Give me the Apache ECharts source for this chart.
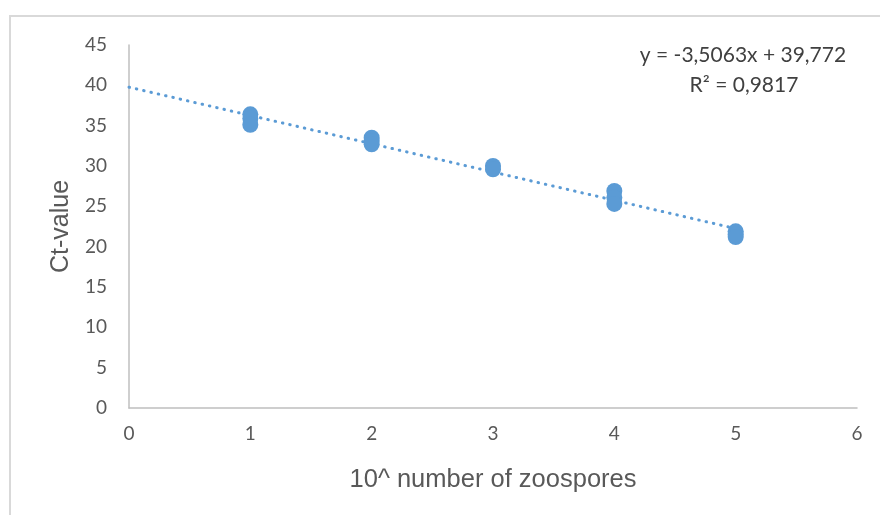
<!DOCTYPE html>
<html><head><meta charset="utf-8">
<script src="https://cdn.jsdelivr.net/npm/echarts@6/dist/echarts.min.js"></script>
<style>html,body{margin:0;padding:0;background:#fff}#c{width:880px;height:515px;position:relative}
#frame{position:absolute;left:9px;top:15px;width:880px;height:520px;border-left:2px solid #d9d9d9;border-top:2px solid #d9d9d9;pointer-events:none}</style>
</head><body><div id="c"></div><div id="frame"></div>
<script>
var xVals = [1, 1, 1, 2, 2, 2, 3, 3, 4, 4, 4, 5, 5, 5];
var ctVals = [36.4, 35.9, 35.1, 33.5, 33.1, 32.7, 30.0, 29.6, 26.9, 26.1, 25.3, 21.9, 21.5, 21.2];
var trendX = [0, 5];
var trendY = [39.772, 22.24];
var xTicks = [0, 1, 2, 3, 4, 5, 6];
var yTicks = [0, 5, 10, 15, 20, 25, 30, 35, 40, 45];
var equation = ['y = -3,5063x + 39,772', 'R² = 0,9817'];

var chart = echarts.init(document.getElementById('c'), null, {renderer: 'canvas'});
var pts = xVals.map(function (x, i) { return [x, ctVals[i]]; });
var trend = trendX.map(function (x, i) { return [x, trendY[i]]; });
chart.setOption({
  animation: false,
  grid: {left: 129, right: 23, top: 45, bottom: 107},
  xAxis: {
    type: 'value', min: xTicks[0], max: xTicks[xTicks.length - 1], interval: 1,
    name: '10^ number of zoospores', nameLocation: 'middle', nameGap: 59,
    nameTextStyle: {fontFamily: 'Liberation Sans', fontSize: 25.5, color: '#595959'},
    axisLine: {lineStyle: {color: '#bfbfbf', width: 1.5}},
    axisTick: {show: false}, splitLine: {show: false},
    axisLabel: {fontFamily: 'Lato', fontSize: 19, color: '#595959', margin: 16}
  },
  yAxis: {
    type: 'value', min: yTicks[0], max: yTicks[yTicks.length - 1], interval: 5,
    name: 'Ct-value', nameLocation: 'middle', nameGap: 55, nameRotate: 90,
    nameTextStyle: {fontFamily: 'Liberation Sans', fontSize: 25, color: '#595959'},
    axisLine: {show: true, lineStyle: {color: '#bfbfbf', width: 1.5}},
    axisTick: {show: false}, splitLine: {show: false},
    axisLabel: {fontFamily: 'Lato', fontSize: 19, color: '#595959', margin: 22}
  },
  series: [
    {type: 'line', data: trend, symbol: 'none', silent: true,
     lineStyle: {color: '#5b9bd5', width: 3, type: [0.5, 7], cap: 'round'}, z: 1},
    {type: 'scatter', data: pts, symbol: 'circle', symbolSize: 16,
     itemStyle: {color: '#5b9bd5', opacity: 1}, z: 2}
  ],
  graphic: [
    {type: 'text', style: {text: equation[0], fontFamily: 'Lato', fontSize: 21, fill: '#404040', x: 743, y: 55, align: 'center', verticalAlign: 'middle'}},
    {type: 'text', style: {text: equation[1], fontFamily: 'Lato', fontSize: 21, fill: '#404040', x: 744, y: 85, align: 'center', verticalAlign: 'middle'}}
  ]
});
</script></body></html>
